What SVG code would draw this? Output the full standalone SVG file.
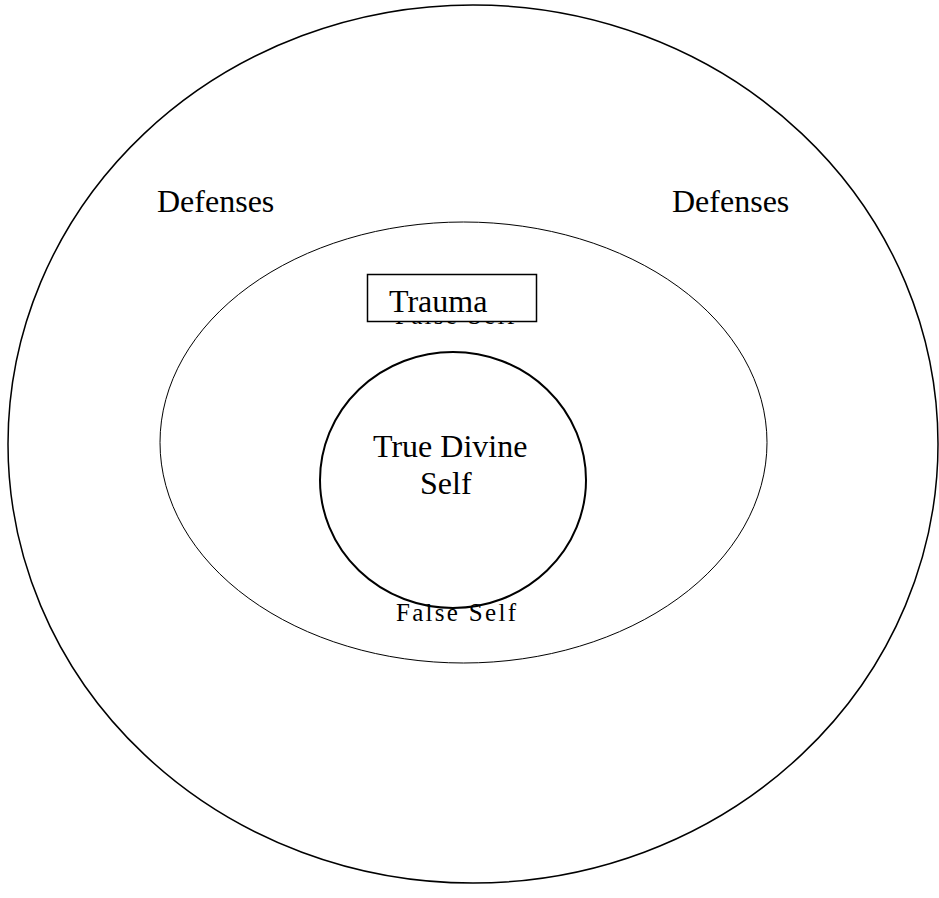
<svg xmlns="http://www.w3.org/2000/svg" width="939" height="898" viewBox="0 0 939 898">
<style>
.t{font-family:"Liberation Serif","Times New Roman",serif;fill:#000}
.big{font-size:32px}
.fs{font-size:25px;letter-spacing:2.3px}
</style>
<rect width="939" height="898" fill="#fff"/>
<g id="outer"><ellipse cx="473" cy="444" rx="465" ry="439" fill="none" stroke="#000" stroke-width="1.5"/></g>
<g id="middle"><ellipse cx="463.5" cy="442.5" rx="303.5" ry="220.5" fill="none" stroke="#000" stroke-width="1"/></g>
<g id="inner"><ellipse cx="453" cy="480" rx="133" ry="128" fill="none" stroke="#000" stroke-width="2"/></g>
<g id="labels">
<text class="t big" x="157" y="212">Defenses</text>
<text class="t big" x="672" y="212">Defenses</text>
<text class="t big" x="373" y="457">True Divine</text>
<text class="t big" x="420" y="494">Self</text>
<text class="t fs" x="396" y="621">False Self</text>
<text class="t fs" x="395" y="324">False Self</text>
</g>
<g id="trauma">
<rect x="367.5" y="274.5" width="169" height="47" fill="#fff" stroke="#000" stroke-width="1.5"/>
<text class="t big" x="389" y="312">Trauma</text>
</g>
<g id="connectors"></g>
</svg>
